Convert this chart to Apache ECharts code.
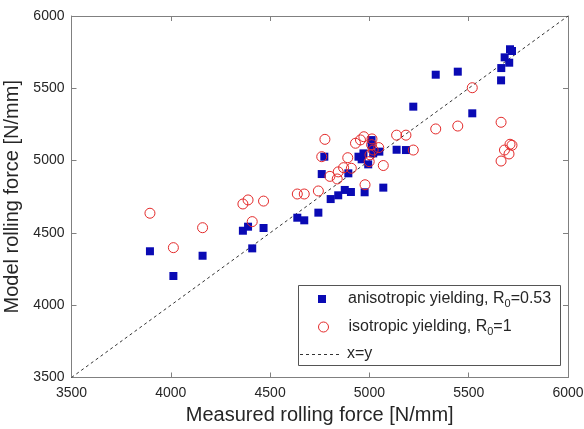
<!DOCTYPE html>
<html><head><meta charset="utf-8">
<script src="https://cdn.jsdelivr.net/npm/echarts@6/dist/echarts.min.js"></script>
<style>html,body{margin:0;padding:0;background:#fff}#c{width:584px;height:429px}</style>
</head><body><div id="c"></div>
<script>
const xTicks = [3500, 4000, 4500, 5000, 5500, 6000];
const yTicks = [3500, 4000, 4500, 5000, 5500, 6000];
const anisoMeasured = [3895,4013,4160,4363,4389,4410,4467,4637,4672,4743,4805,4843,4876,4907,4976,5070,4760,4773,4894,4945,4961,4970,4994,5011,5011,5019,5050,5137,5184,5221,5334,5445,5518,5708,5718,5681,5704,5664,5663];
const anisoModel    = [4373,4202,4342,4515,4543,4393,4534,4605,4587,4640,4734,4760,4797,4783,4781,4813,4907,5027,4912,5027,5009,5050,4974,5142,5108,5050,5062,5075,5073,5373,5594,5615,5327,5770,5758,5714,5677,5640,5555];
const isoMeasured = [3895,4013,4160,4363,4389,4467,4410,4637,4672,4743,4978,4801,4838,4843,4870,4909,4891,4760,4776,4930,4955,4972,5013,5011,5019,5047,4999,5003,5070,5137,5184,5221,5334,5445,5518,5663,5680,5708,5718,5703,5663];
const isoModel    = [4636,4398,4536,4700,4728,4720,4578,4769,4769,4790,4833,4891,4873,4922,4951,4947,5020,5027,5147,5120,5143,5165,5150,5110,5073,5090,4993,5040,4966,5176,5176,5073,5219,5239,5504,5265,5073,5113,5106,5046,4997];
const identityLine = [3500, 6000];

const BLUE = '#0a0ab4', RED = '#e42a2a', AX = '#808080';
const FF = 'Liberation Sans, Arial';
const lbl = {color:'#262626', fontSize:14, fontFamily:FF};
const leg = {color:'#262626', fontSize:16, fontFamily:FF};
const rich = {sub:{fontSize:11, fontFamily:FF, color:'#262626', padding:[10,0,0,0]}};

function axisBase(extra){
  return Object.assign({
    type:'value', interval:500,
    axisLine:{show:true, onZero:false, lineStyle:{color:AX, width:1}},
    axisTick:{show:true, inside:true, length:5, lineStyle:{color:AX}},
    splitLine:{show:false}
  }, extra);
}
const fmt = v => String(v);

const chart = echarts.init(document.getElementById('c'), null, {renderer:'canvas'});
chart.setOption({
  animation:false,
  backgroundColor:'#fff',
  grid:{left:71.5, right:16, top:16, bottom:51.5, containLabel:false, outerBoundsMode:'none'},
  xAxis:[
    axisBase({position:'bottom', min:xTicks[0], max:xTicks[5],
      axisLabel:Object.assign({margin:9, formatter:fmt}, lbl),
      name:'Measured rolling force [N/mm]', nameLocation:'middle', nameGap:24,
      nameTextStyle:{fontSize:20, color:'#262626', fontFamily:FF}}),
    axisBase({position:'top', min:xTicks[0], max:xTicks[5], axisLabel:{show:false}})
  ],
  yAxis:[
    axisBase({position:'left', min:yTicks[0], max:yTicks[5],
      axisLabel:Object.assign({margin:7, formatter:fmt}, lbl),
      name:'Model rolling force [N/mm]', nameLocation:'middle', nameGap:48,
      nameTextStyle:{fontSize:20, color:'#262626', fontFamily:FF}}),
    axisBase({position:'right', min:yTicks[0], max:yTicks[5], axisLabel:{show:false}})
  ],
  legend:[
    {data:['aniso'], left:318, top:291, orient:'vertical', itemWidth:8, itemHeight:8,
     icon:'rect', formatter:()=>'anisotropic yielding, R{sub|0}=0.53',
     textStyle:Object.assign({rich:rich, padding:[0,0,0,17]}, leg), padding:0},
    {data:['iso'], left:318, top:319, orient:'vertical', itemWidth:10, itemHeight:10,
     icon:'circle', itemStyle:{color:'rgba(0,0,0,0)', borderColor:RED, borderWidth:1},
     formatter:()=>'isotropic yielding, R{sub|0}=1',
     textStyle:Object.assign({rich:rich, padding:[0,0,0,15]}, leg), padding:0},
    {data:[{name:'xy', icon:'none'}], left:300, top:346, itemWidth:42, itemHeight:10,
     formatter:()=>'x=y', textStyle:Object.assign({}, leg), padding:0}
  ],
  graphic:[
    {type:'rect', left:296, top:283, shape:{width:262, height:80},
     style:{fill:null, stroke:'#555', lineWidth:1}, z:100},
    {type:'line', shape:{x1:300, y1:354.5, x2:342, y2:354.5},
     style:{stroke:'#333', lineWidth:1, lineDash:[3,3]}, z:100}
  ],
  series:[
    {name:'xy', type:'line', data:identityLine.map(v=>[v,v]), symbol:'none',
     lineStyle:{color:'#333', width:1, type:[3,3]}, silent:true, z:1},
    {name:'aniso', type:'scatter', symbol:'rect', symbolSize:8,
     itemStyle:{color:BLUE, opacity:1}, data:anisoMeasured.map((v,i)=>[v, anisoModel[i]]), z:2},
    {name:'iso', type:'scatter', symbol:'circle', symbolSize:10,
     itemStyle:{color:'rgba(0,0,0,0)', borderColor:RED, borderWidth:1, opacity:1},
     data:isoMeasured.map((v,i)=>[v, isoModel[i]]), z:3}
  ]
});
</script></body></html>
